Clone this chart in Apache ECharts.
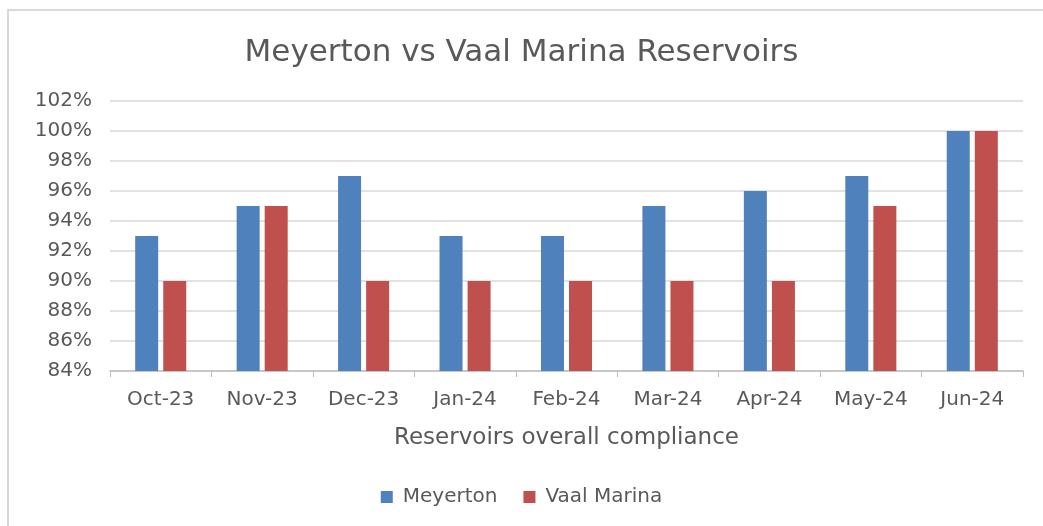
<!DOCTYPE html>
<html>
<head>
<meta charset="utf-8">
<script src="https://cdn.jsdelivr.net/npm/echarts@6/dist/echarts.min.js"></script>
<style>
  html, body { margin: 0; padding: 0; background: #fff; }
  #chart { width: 1043px; height: 526px; }
</style>
</head>
<body>
<div id="chart"></div>
<script>
const months = ['Oct-23', 'Nov-23', 'Dec-23', 'Jan-24', 'Feb-24', 'Mar-24', 'Apr-24', 'May-24', 'Jun-24'];
const meyerton = [93, 95, 97, 93, 93, 95, 96, 97, 100];
const vaalMarina = [90, 95, 90, 90, 90, 90, 90, 95, 100];

const textColor = '#595959';
const font = 'DejaVu Sans';

const chart = echarts.init(document.getElementById('chart'), undefined, { renderer: 'canvas' });
chart.setOption({
  animation: false,
  textStyle: { fontFamily: font },
  graphic: [{
    type: 'rect',
    shape: { x: 8, y: 10, width: 1200, height: 700 },
    style: { fill: 'none', stroke: '#d9d9d9', lineWidth: 2 },
    silent: true
  }],
  title: {
    text: 'Meyerton vs Vaal Marina Reservoirs',
    left: 'center',
    top: 32,
    textStyle: { fontFamily: font, fontSize: 31, fontWeight: 'normal', color: textColor }
  },
  legend: {
    bottom: 14,
    left: 'center',
    itemWidth: 12,
    itemHeight: 12,
    itemGap: 26,
    icon: 'rect',
    textStyle: { fontFamily: font, fontSize: 20, color: textColor, padding: [0, 0, 0, 5] }
  },
  grid: { left: 110, right: 20, top: 101, bottom: 155 },
  xAxis: {
    type: 'category',
    data: months,
    name: 'Reservoirs overall compliance',
    nameLocation: 'middle',
    nameGap: 56,
    nameTextStyle: { fontFamily: font, fontSize: 23, color: textColor },
    axisLine: { lineStyle: { color: '#bfbfbf', width: 1.5 } },
    axisTick: { show: true, length: 6, lineStyle: { color: '#bfbfbf' } },
    axisLabel: { fontFamily: font, fontSize: 20, color: textColor, margin: 19 }
  },
  yAxis: {
    type: 'value',
    min: 84,
    max: 102,
    interval: 2,
    axisLine: { show: false },
    axisTick: { show: false },
    axisLabel: { fontFamily: font, fontSize: 20, color: textColor, margin: 18, formatter: v => v + '%' },
    splitLine: { lineStyle: { color: '#d9d9d9', width: 1.5 } }
  },
  series: [
    {
      name: 'Meyerton',
      type: 'bar',
      data: meyerton,
      barWidth: 23,
      barGap: '22%',
      itemStyle: { color: '#4F81BD' }
    },
    {
      name: 'Vaal Marina',
      type: 'bar',
      data: vaalMarina,
      barWidth: 23,
      itemStyle: { color: '#C0504D' }
    }
  ]
});
</script>
</body>
</html>
